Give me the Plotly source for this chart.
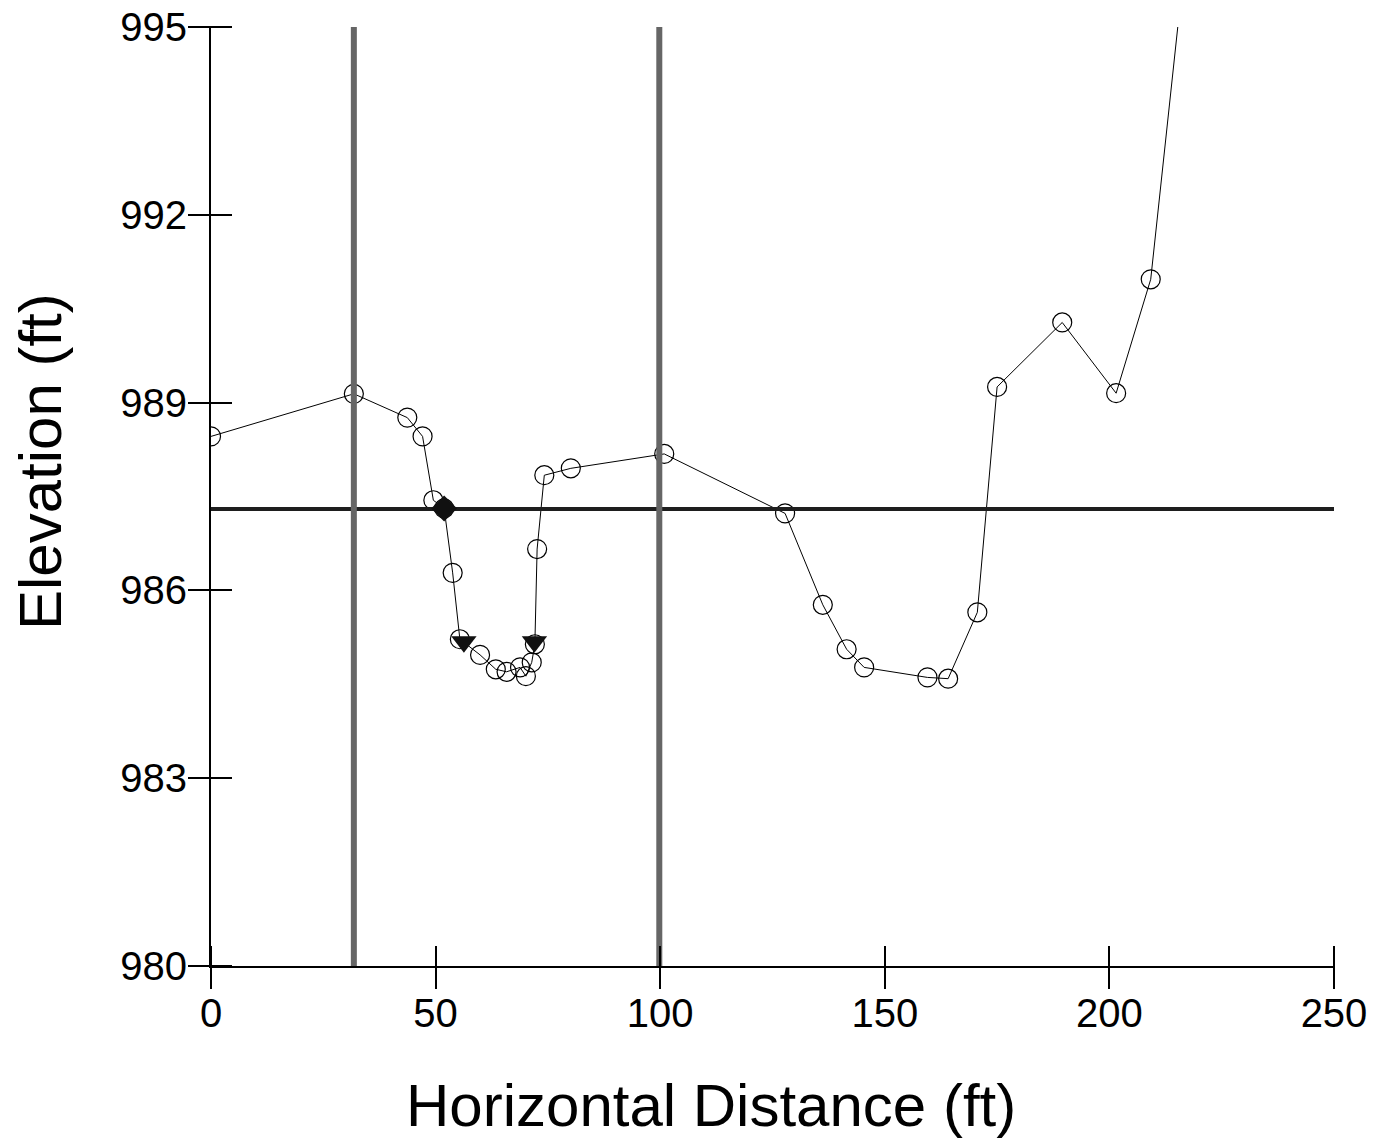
import plotly.graph_objects as go

# Ground profile (station ft, elevation ft)
station = [0.0, 31.8, 43.7, 47.1, 49.5, 51.9, 53.8, 55.4, 59.9, 63.4, 65.8, 68.8, 70.1,
           71.4, 72.1, 72.6, 74.2, 80.1, 100.9, 127.8, 136.2, 141.5, 145.4, 159.5, 164.1,
           170.6, 175.0, 189.5, 201.5, 209.2, 220.0]
elevation = [988.46, 989.14, 988.76, 988.46, 987.44, 987.31, 986.28, 985.22, 984.97, 984.74,
             984.70, 984.77, 984.63, 984.85, 985.14, 986.66, 987.84, 987.95, 988.18, 987.23,
             985.77, 985.06, 984.77, 984.61, 984.59, 985.65, 989.25, 990.28, 989.15, 990.97,
             998.2]

# Bank stations (vertical lines)
bank_x = [31.8, 99.8]
# Water surface elevation
ws_x = [0, 250]
ws_elev = 987.3
# Markers
diamond_x = [51.9]
diamond_y = [987.31]
tri_x = [56.3, 72.0]
tri_y = [985.18, 985.18]

x_ticks = [0, 50, 100, 150, 200, 250]
y_ticks = [980, 983, 986, 989, 992, 995]
x_range = [0, 250]
y_range = [980, 995]

FONT = "Liberation Sans, Arial, Helvetica, sans-serif"

W, H = 1374, 1144
ML, MR, MT, MB = 211, 40, 27, 178
TICK = 21
plot_w = W - ML - MR
plot_h = H - MT - MB

fig = go.Figure()

fig.add_trace(go.Scatter(
    x=station, y=elevation, mode="lines+markers",
    line=dict(color="black", width=1),
    marker=dict(symbol="circle-open", size=19, color="black", line=dict(width=1.2)),
    showlegend=False, cliponaxis=True))

fig.add_trace(go.Scatter(
    x=ws_x, y=[ws_elev, ws_elev], mode="lines",
    line=dict(color="#1e1e1e", width=4), showlegend=False))

for bx in bank_x:
    fig.add_trace(go.Scatter(
        x=[bx, bx], y=y_range, mode="lines",
        line=dict(color="#666666", width=6), showlegend=False))

fig.add_trace(go.Scatter(
    x=diamond_x, y=diamond_y, mode="markers",
    marker=dict(symbol="diamond", size=20, color="#111111"), showlegend=False))

fig.add_trace(go.Scatter(
    x=tri_x, y=tri_y, mode="markers",
    marker=dict(symbol="triangle-down", size=22, color="#111111"), showlegend=False))

# dummy trace for tick-only axes (crossing ticks)
fig.add_trace(go.Scatter(x=[None], y=[None], xaxis="x2", yaxis="y2",
                         mode="markers", showlegend=False, hoverinfo="skip"))

axis_common = dict(showgrid=False, zeroline=False, tickwidth=2,
                   tickcolor="black", automargin=False)

fig.update_layout(
    width=W, height=H,
    margin=dict(l=ML, r=MR, t=MT, b=MB, autoexpand=False),
    paper_bgcolor="white", plot_bgcolor="white",
    font=dict(family=FONT, color="black"),
    xaxis=dict(range=x_range, tickvals=x_ticks, ticks="outside", ticklen=TICK,
               showline=True, linecolor="black", linewidth=2, ticklabelstandoff=-10,
               tickfont=dict(size=40, family=FONT, color="black"), **axis_common),
    yaxis=dict(range=y_range, tickvals=y_ticks, ticks="outside", ticklen=TICK,
               showline=True, linecolor="black", linewidth=2, ticklabelstandoff=-7,
               tickfont=dict(size=40, family=FONT, color="black"), **axis_common),
    xaxis2=dict(range=x_range, tickvals=x_ticks, ticks="outside", ticklen=2 * TICK,
                overlaying="x", side="bottom", anchor="free", position=TICK / plot_h,
                showticklabels=False, showline=False, **axis_common),
    yaxis2=dict(range=y_range, tickvals=y_ticks, ticks="outside", ticklen=2 * TICK,
                overlaying="y", side="left", anchor="free", position=TICK / plot_w,
                showticklabels=False, showline=False, **axis_common),
    annotations=[
        dict(text="Horizontal Distance (ft)", xref="paper", yref="paper",
             x=0.445, y=-0.149, xanchor="center", yanchor="middle", showarrow=False,
             font=dict(size=60, family=FONT, color="black")),
        dict(text="Elevation (ft)", xref="paper", yref="paper",
             x=-0.152, y=0.537, xanchor="center", yanchor="middle", showarrow=False,
             textangle=-90, font=dict(size=60, family=FONT, color="black")),
    ],
)

fig.write_html("out.html", config={"displayModeBar": False},
               post_script="document.body.style.margin='0';document.body.style.overflow='hidden';")
